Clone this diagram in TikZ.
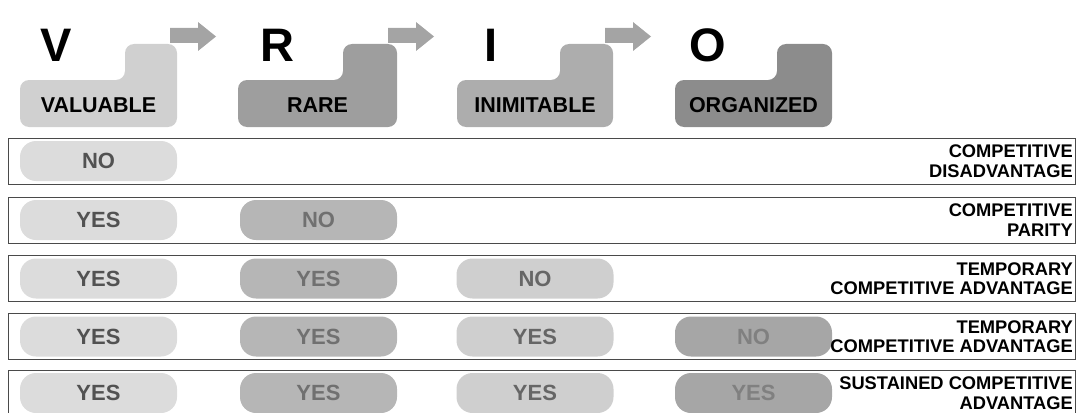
\documentclass[tikz,border=0pt]{standalone}
\usepackage{fontspec}
\setmainfont{Liberation Sans}
\definecolor{hV}{HTML}{D0D0D0}
\definecolor{hR}{HTML}{9E9E9E}
\definecolor{hI}{HTML}{ADADAD}
\definecolor{hO}{HTML}{8C8C8C}
\definecolor{pV}{HTML}{DCDCDC}
\definecolor{pR}{HTML}{B6B6B6}
\definecolor{pI}{HTML}{CFCFCF}
\definecolor{pO}{HTML}{A6A6A6}
\definecolor{arrc}{HTML}{A4A4A4}
\definecolor{rowc}{HTML}{4A4A4A}
\begin{document}
\begin{tikzpicture}[x=1pt,y=-1pt,
  letter/.style={font=\fontsize{47}{47}\selectfont\bfseries, anchor=base, inner sep=0},
  headtxt/.style={font=\fontsize{21.5}{21.5}\selectfont\bfseries, anchor=base, inner sep=0},
  tab/.style={rounded corners=9pt},
  pill/.style={rounded corners=16pt, minimum width=157pt, minimum height=40pt, inner sep=0,
    font=\fontsize{22}{22}\selectfont\bfseries},
  rowbox/.style={draw=rowc, line width=0.9pt, minimum width=1067pt, minimum height=46pt, inner sep=0},
  lbl/.style={font=\fontsize{18.3}{19.5}\selectfont\bfseries, align=right, anchor=east, inner sep=0},
  blockarrow/.style={fill=arrc}
]
\useasboundingbox (0,0) rectangle (1083,412);
\clip (0,0) rectangle (1083,412);

% header tabs
\fill[hV,tab] (20,80) -- (125,80) -- (125,44) -- (177,44) -- (177,127) -- (20,127) -- cycle;
\fill[hR,tab] (238,80) -- (343,80) -- (343,44) -- (397,44) -- (397,127) -- (238,127) -- cycle;
\fill[hI,tab] (457,80) -- (560,80) -- (560,44) -- (613,44) -- (613,127) -- (457,127) -- cycle;
\fill[hO,tab] (675,80) -- (777,80) -- (777,44) -- (832,44) -- (832,127) -- (675,127) -- cycle;

\node[headtxt] (hv) at (98.5,112) {VALUABLE};
\node[headtxt] (hr) at (317.5,112) {RARE};
\node[headtxt] (hi) at (535,112) {INIMITABLE};
\node[headtxt] (ho) at (753.5,112) {ORGANIZED};

\node[letter] (lv) at (56,62) {V};
\node[letter] (lr) at (277,62) {R};
\node[letter] (li) at (491,62) {I};
\node[letter] (lo) at (708,62) {O};

% block arrows
\foreach \x in {170,388,605}{
  \fill[blockarrow] (\x,28) -- (\x+28,28) -- (\x+28,22) -- (\x+46,36.5) -- (\x+28,51) -- (\x+28,43) -- (\x,43) -- cycle;
}

% rows
\node[rowbox] (r1) at (541.5,161) {};
\node[rowbox] (r2) at (541.5,220) {};
\node[rowbox] (r3) at (541.5,278.5) {};
\node[rowbox] (r4) at (541.5,336.5) {};
\node[rowbox] (r5) at (541.5,393) {};

% pills
\node[pill, fill=pV, text=black!68] (p1v) at (98.5,161) {NO};

\node[pill, fill=pV, text=black!68] (p2v) at (98.5,220) {YES};
\node[pill, fill=pR, text=black!56] (p2r) at (318.5,220) {NO};

\node[pill, fill=pV, text=black!68] (p3v) at (98.5,278.5) {YES};
\node[pill, fill=pR, text=black!56] (p3r) at (318.5,278.5) {YES};
\node[pill, fill=pI, text=black!60] (p3i) at (535,278.5) {NO};

\node[pill, fill=pV, text=black!68] (p4v) at (98.5,336.5) {YES};
\node[pill, fill=pR, text=black!56] (p4r) at (318.5,336.5) {YES};
\node[pill, fill=pI, text=black!60] (p4i) at (535,336.5) {YES};
\node[pill, fill=pO, text=black!50] (p4o) at (753.5,336.5) {NO};

\node[pill, fill=pV, text=black!68] (p5v) at (98.5,393) {YES};
\node[pill, fill=pR, text=black!56] (p5r) at (318.5,393) {YES};
\node[pill, fill=pI, text=black!60] (p5i) at (535,393) {YES};
\node[pill, fill=pO, text=black!50] (p5o) at (753.5,393) {YES};

% outcome labels
\node[lbl] (o1) at (1073,161) {COMPETITIVE\\DISADVANTAGE};
\node[lbl] (o2) at (1073,220) {COMPETITIVE\\PARITY};
\node[lbl] (o3) at (1073,278.5) {TEMPORARY\\COMPETITIVE ADVANTAGE};
\node[lbl] (o4) at (1073,336.5) {TEMPORARY\\COMPETITIVE ADVANTAGE};
\node[lbl] (o5) at (1073,393) {SUSTAINED COMPETITIVE\\ADVANTAGE};
\end{tikzpicture}
\end{document}
